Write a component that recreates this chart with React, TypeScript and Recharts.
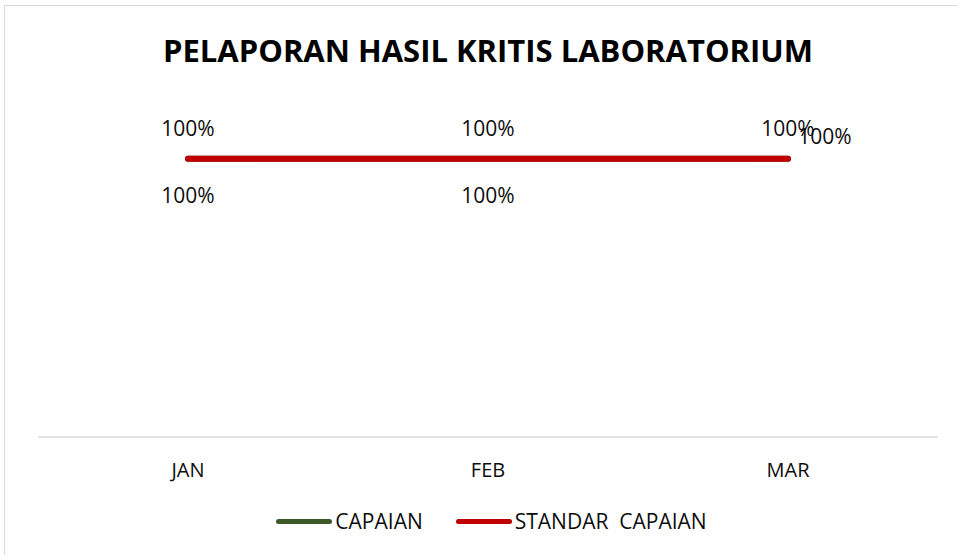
import React from "react";
import { LineChart, Line, XAxis, YAxis, LabelList } from "recharts";

const months = ["JAN", "FEB", "MAR"];
const capaian = [1, 1, 1];
const standar = [1, 1, 1];

const data = months.map((m, i) => ({
  month: m,
  capaian: capaian[i],
  standar: standar[i],
}));

const FONT = "'Open Sans', 'Noto Sans', sans-serif";
const GREEN = "#3b5a27";
const RED = "#c00000";

const pct = (v: number) => `${Math.round(v * 100)}%`;

function TopLabel(props: any) {
  const { x, y, value } = props;
  return (
    <text x={x} y={y - 31} textAnchor="middle" dominantBaseline="central" fontSize={21} fill="#0d0d0d" fontFamily={FONT}>
      {pct(value)}
    </text>
  );
}

function BottomLabel(props: any) {
  const { x, y, value, index } = props;
  const last = index === months.length - 1;
  return (
    <text
      x={last ? x + 37 : x}
      y={last ? y - 23 : y + 36}
      textAnchor="middle"
      dominantBaseline="central"
      fontSize={21}
      fill="#0d0d0d"
      fontFamily={FONT}
    >
      {pct(value)}
    </text>
  );
}

function LegendBox() {
  const item = (color: string, label: string) => (
    <div style={{ display: "flex", alignItems: "center", gap: 3 }}>
      <div style={{ width: 56, height: 5, borderRadius: 3, background: color }} />
      <span style={{ whiteSpace: "pre" }}>{label}</span>
    </div>
  );
  return (
    <div
      style={{
        position: "absolute",
        left: 0,
        top: 506,
        width: 983,
        display: "flex",
        justifyContent: "center",
        gap: 33,
        fontFamily: FONT,
        fontSize: 21,
        lineHeight: "30px",
        color: "#0d0d0d",
      }}
    >
      {item(GREEN, "CAPAIAN")}
      {item(RED, "STANDAR  CAPAIAN")}
    </div>
  );
}

export default function App() {
  return (
    <div style={{ position: "absolute", left: 0, top: 0, width: 957, height: 555, background: "#fff", overflow: "hidden" }}>
      <div
        style={{
          position: "absolute",
          left: 4,
          top: 5,
          width: 960,
          height: 560,
          borderTop: "1.5px solid #d9d9d9",
          borderLeft: "1.5px solid #d9d9d9",
        }}
      />
      <div
        style={{
          position: "absolute",
          left: 0,
          top: 28,
          width: 976,
          textAlign: "center",
          fontFamily: FONT,
          fontWeight: 700,
          fontSize: 31,
          lineHeight: "44px",
          color: "#000",
        }}
      >
        PELAPORAN HASIL KRITIS LABORATORIUM
      </div>
      <div style={{ position: "absolute", left: 0, top: 0 }}>
        <LineChart width={957} height={555} data={data} margin={{ top: 103, right: 19, left: 38, bottom: 78 }}>
          <XAxis
            dataKey="month"
            padding={{ left: 150, right: 150 }}
            axisLine={{ stroke: "#d9d9d9", strokeWidth: 1.5 }}
            tickLine={false}
            tick={{ fill: "#0d0d0d", fontSize: 20, fontFamily: FONT }}
            tickMargin={20}
            height={40}
          />
          <YAxis hide domain={[0, 1.2]} width={0} />
          <Line
            dataKey="capaian"
            name="CAPAIAN"
            stroke={GREEN}
            strokeWidth={6}
            strokeLinecap="round"
            dot={false}
            isAnimationActive={false}
          >
            <LabelList dataKey="capaian" content={TopLabel} />
          </Line>
          <Line
            dataKey="standar"
            name="STANDAR  CAPAIAN"
            stroke={RED}
            strokeWidth={6}
            strokeLinecap="round"
            dot={false}
            isAnimationActive={false}
          >
            <LabelList dataKey="standar" content={BottomLabel} />
          </Line>
        </LineChart>
      </div>
      <LegendBox />
    </div>
  );
}
